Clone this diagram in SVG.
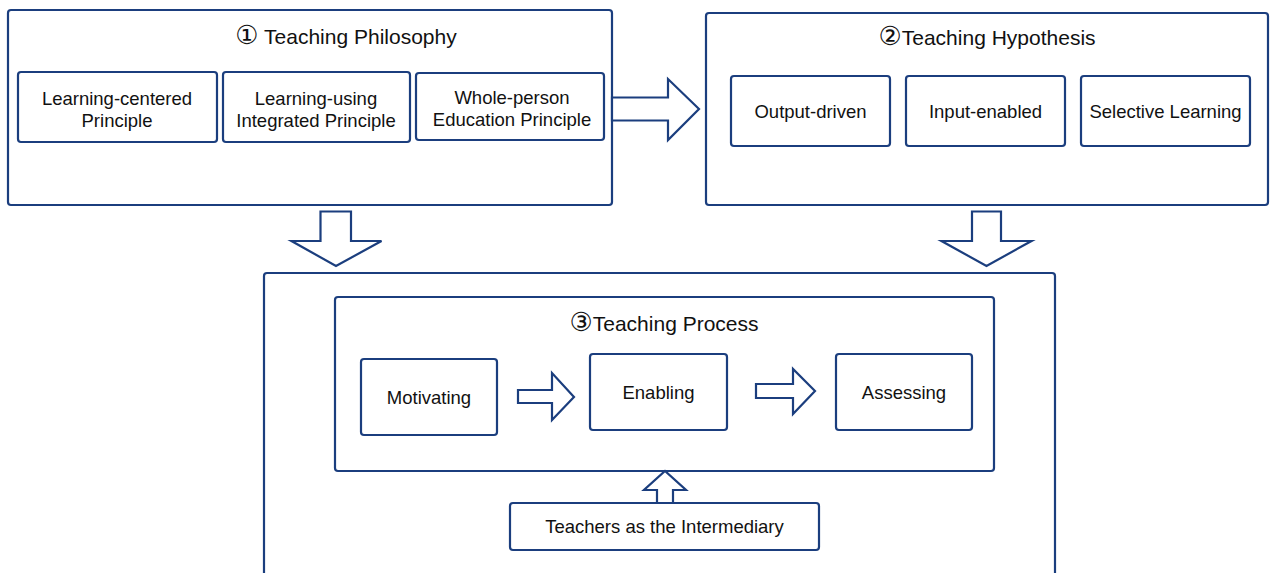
<svg xmlns="http://www.w3.org/2000/svg" width="1277" height="573" viewBox="0 0 1277 573">
  <style>
    .box { fill: #ffffff; stroke: #1b3e7e; stroke-width: 2.2; }
    .arrow { fill: #ffffff; stroke: #1b3e7e; stroke-width: 2.2; stroke-linejoin: miter; }
    text { font-family: "Liberation Sans", "DejaVu Sans", Arial, sans-serif; fill: #111111; text-anchor: middle; }
    .title { font-size: 21px; }
    .num { font-size: 26px; }
    .label { font-size: 18.5px; }
  </style>
  <rect width="1277" height="573" fill="#ffffff"/>

  <!-- Teaching Philosophy -->
  <g id="philosophy">
    <rect class="box" x="8" y="10" width="604" height="195" rx="3"/>
    <text class="title" x="346" y="44"><tspan class="num">①</tspan> Teaching Philosophy</text>
  </g>
  <g id="learning-centered">
    <rect class="box" x="18" y="72" width="199" height="70" rx="3"/>
    <text class="label" x="117" y="104.5">Learning-centered</text>
    <text class="label" x="117" y="126.5">Principle</text>
  </g>
  <g id="learning-using">
    <rect class="box" x="223" y="72" width="187" height="70" rx="3"/>
    <text class="label" x="316" y="104.5">Learning-using</text>
    <text class="label" x="316" y="126.5">Integrated Principle</text>
  </g>
  <g id="whole-person">
    <rect class="box" x="416" y="73" width="188" height="67" rx="3"/>
    <text class="label" x="512" y="103.5">Whole-person</text>
    <text class="label" x="512" y="125.5">Education Principle</text>
  </g>

  <!-- Teaching Hypothesis -->
  <g id="hypothesis">
    <rect class="box" x="706" y="13" width="562" height="192" rx="3"/>
    <text class="title" x="987" y="45"><tspan class="num">②</tspan>Teaching Hypothesis</text>
  </g>
  <g id="output-driven">
    <rect class="box" x="731" y="76" width="159" height="70" rx="3"/>
    <text class="label" x="810.5" y="118">Output-driven</text>
  </g>
  <g id="input-enabled">
    <rect class="box" x="906" y="76" width="159" height="70" rx="3"/>
    <text class="label" x="985.5" y="118">Input-enabled</text>
  </g>
  <g id="selective-learning">
    <rect class="box" x="1081" y="76" width="169" height="70" rx="3"/>
    <text class="label" x="1165.5" y="118">Selective Learning</text>
  </g>

  <!-- Teaching Process -->
  <g id="process-frame">
    <rect class="box" x="264" y="273" width="791" height="320" rx="3"/>
  </g>
  <g id="process">
    <rect class="box" x="335" y="297" width="659" height="174" rx="3"/>
    <text class="title" x="664" y="331"><tspan class="num">③</tspan>Teaching Process</text>
  </g>
  <g id="motivating">
    <rect class="box" x="361" y="359" width="136" height="76" rx="3"/>
    <text class="label" x="429" y="404">Motivating</text>
  </g>
  <g id="enabling">
    <rect class="box" x="590" y="354" width="137" height="76" rx="3"/>
    <text class="label" x="658.5" y="399">Enabling</text>
  </g>
  <g id="assessing">
    <rect class="box" x="836" y="354" width="136" height="76" rx="3"/>
    <text class="label" x="904" y="399">Assessing</text>
  </g>
  <g id="teachers">
    <rect class="box" x="510" y="503" width="309" height="47" rx="3"/>
    <text class="label" x="664.5" y="533">Teachers as the Intermediary</text>
  </g>

  <!-- block arrows -->
  <g id="connectors">
    <polygon class="arrow" points="612,97.5 668,97.5 668,79 699,109 668,140 668,120.5 612,120.5"/>
    <polygon class="arrow" points="320.5,211.5 351,211.5 351,241 381.5,241 336,266 291.5,241 320.5,241"/>
    <polygon class="arrow" points="972,211.5 1001,211.5 1001,241 1031.5,241 986.5,266 941.5,241 972,241"/>
    <polygon class="arrow" points="518,390 552,390 552,373 574,397 552,420 552,403 518,403"/>
    <polygon class="arrow" points="756,384 793,384 793,369 815,391 793,414 793,398 756,398"/>
    <polygon class="arrow" points="657,503 657,490 644,490 665,471 686,490 673,490 673,503"/>
  </g>
</svg>
